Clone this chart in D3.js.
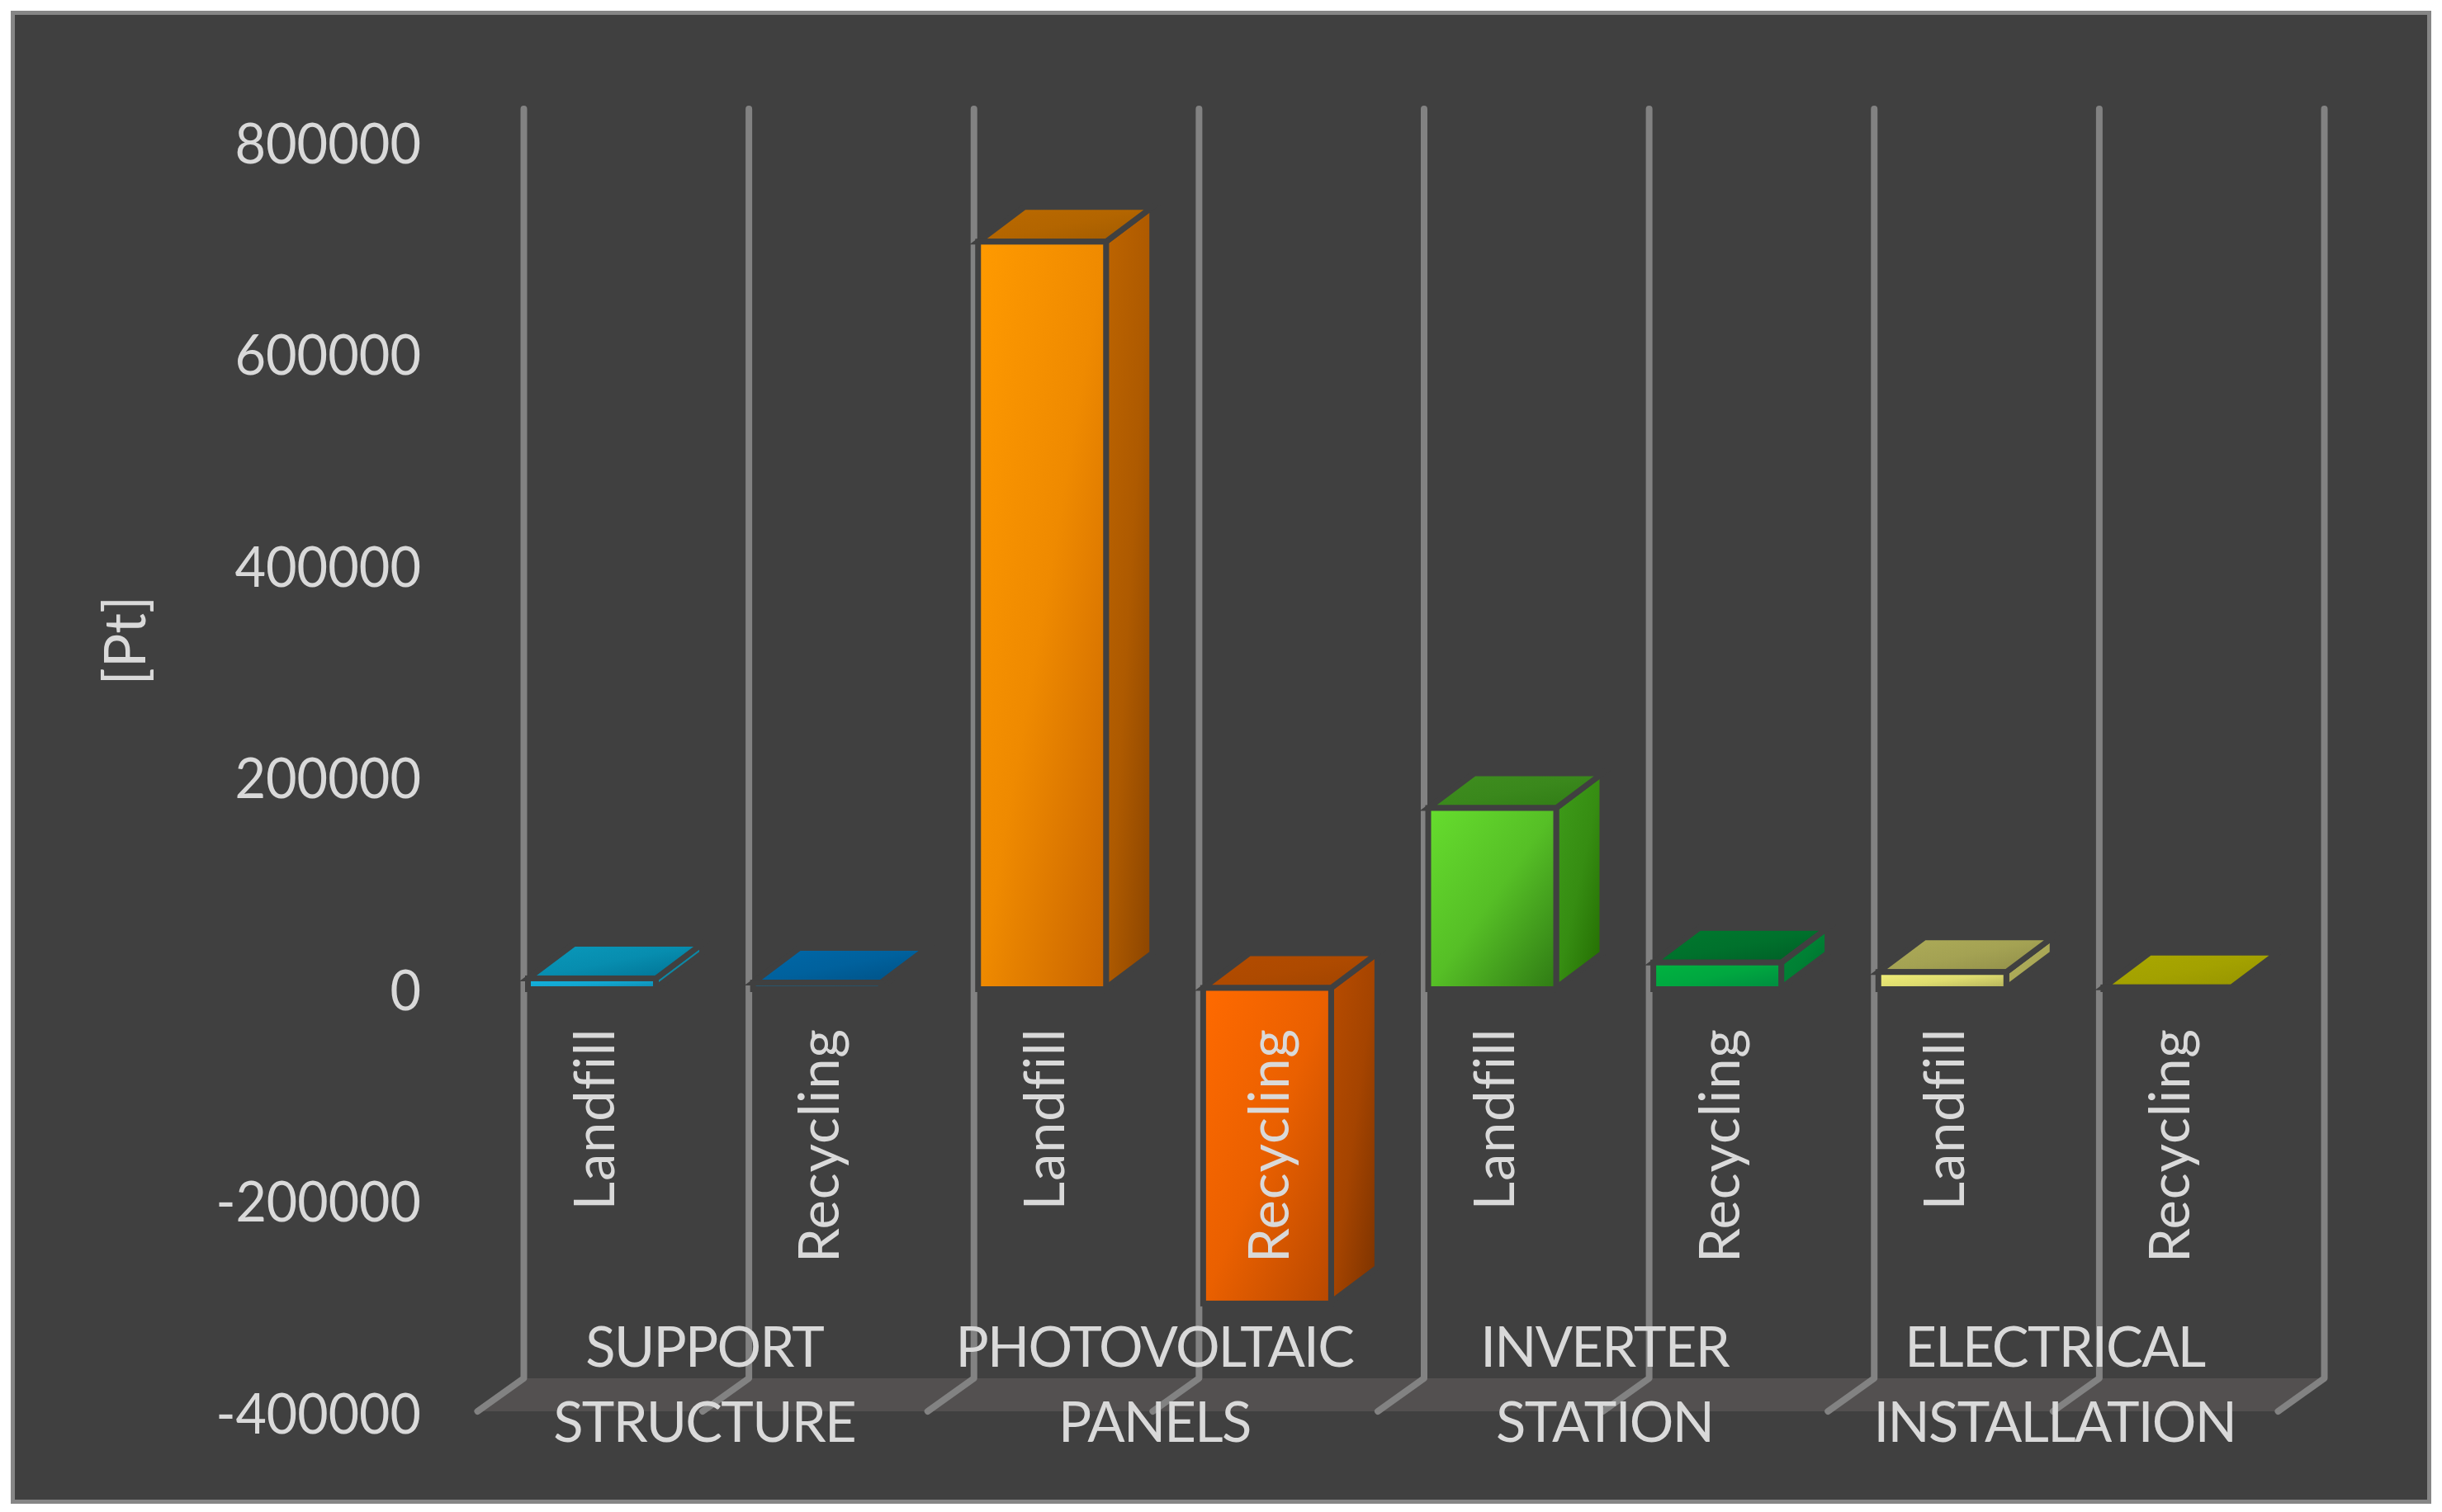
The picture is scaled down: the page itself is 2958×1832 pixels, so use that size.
<!DOCTYPE html>
<html>
<head>
<meta charset="utf-8">
<style>
  html, body { margin: 0; background: #fff; }
  svg { display: block; }
  text { font-family: Lato, sans-serif; fill: #d9d9d9; font-variant-ligatures: none; }
</style>
<script src="https://cdn.jsdelivr.net/npm/d3@7"></script>
</head>
<body>
<svg id="chart" width="2958" height="1832"></svg>
<script>
// values, unit Pt
var groups = [["SUPPORT", "STRUCTURE"], ["PHOTOVOLTAIC", "PANELS"], ["INVERTER", "STATION"], ["ELECTRICAL", "INSTALLATION"]];
var scenarios = ["Landfill", "Recycling"];
var landfill = [9000, 705000, 170000, 15000];
var recycling = [5000, -297000, 24000, 500];
var yTicks = [-400000, -200000, 0, 200000, 400000, 600000, 800000];

// gradients per bar: [front], [top], [side], each from -> to
var palette = [
  [["#14b4e0", "#0c86aa"], ["#0a9abc", "#006f90"], ["#0f8ca8", "#0a7f9c"]],
  [["#2a5a72", "#234f66"], ["#0068a8", "#004f82"], ["#005c96", "#004f82"]],
  [["#ff9a00", "#c86400"], ["#bb6a00", "#a05a00"], ["#bd6400", "#8a4400"]],
  [["#ff6a00", "#b84800"], ["#b44c00", "#a04400"], ["#b84c00", "#7a3200"]],
  [["#66dd2e", "#2f7a14"], ["#3f8e1f", "#2f7a14"], ["#3e9c1a", "#226a00"]],
  [["#00b440", "#008a40"], ["#007a2e", "#005c26"], ["#008a38", "#006a2c"]],
  [["#f2f078", "#b0ae5a"], ["#aeac58", "#8e8c48"], ["#b0ae5a", "#a09e50"]],
  [["#8a8800", "#7a7800"], ["#aaa800", "#949200"], ["#8a8800", "#7a7800"]]
];

var bg = "#404040";
var depthX = 56, depthY = 42;
var digitWidth = 37.6, minusWidth = 23;

var bars = [];
groups.forEach(function(g, i) {
  bars.push({ key: i + scenarios[0], group: i, label: scenarios[0], value: landfill[i] });
  bars.push({ key: i + scenarios[1], group: i, label: scenarios[1], value: recycling[i] });
});

var svg = d3.select("#chart");
var defs = svg.append("defs");

var x = d3.scaleBand().domain(bars.map(function(d) { return d.key })).range([634.5, 2815.5]);
var y = d3.scaleLinear().domain([-400000, 800000]).range([1710, 171]);
var barOffset = 5, barWidth = 155;

svg.append("rect")
  .attr("x", 15.5).attr("y", 15.5)
  .attr("width", 2927).attr("height", 1804)
  .attr("fill", bg).attr("stroke", "#868686").attr("stroke-width", 5);

// floor
var floorLeft = x.range()[0], floorRight = x.range()[1];
svg.append("polygon")
  .attr("points", [
    [floorLeft, y(-400000) - depthY + 2],
    [floorRight, y(-400000) - depthY + 2],
    [floorRight - depthX, y(-400000)],
    [floorLeft - depthX, y(-400000)]
  ].join(" "))
  .attr("fill", "#535050");

// vertical gridlines at the band edges, with the little floor tick
var edges = x.domain().map(function(k) { return x(k) }).concat([floorRight]);
var wall = svg.append("g").attr("fill", "none").attr("stroke", "#828282").attr("stroke-linejoin", "round");
wall.selectAll("path").data(edges).join("path")
  .attr("stroke-width", 8)
  .attr("stroke-linecap", "round")
  .attr("d", function(d) {
    var top = y(800000) - 39, back = y(-400000) - depthY + 2;
    return "M" + d + "," + top + "L" + d + "," + back + "L" + (d - depthX) + "," + y(-400000);
  });

function gradient(id, stops) {
  var g = defs.append("linearGradient").attr("id", id)
    .attr("x1", 0).attr("y1", 0).attr("x2", 1).attr("y2", 1);
  g.append("stop").attr("offset", "0%").attr("stop-color", stops[0]);
  g.append("stop").attr("offset", "50%").attr("stop-color", d3.interpolateRgb(stops[0], stops[1])(0.3));
  g.append("stop").attr("offset", "100%").attr("stop-color", stops[1]);
  return "url(#" + id + ")";
}

var barG = svg.append("g")
  .attr("stroke", bg).attr("stroke-width", 7).attr("stroke-linejoin", "miter");

bars.forEach(function(d, i) {
  var x0 = x(d.key) + barOffset, x1 = x0 + barWidth;
  var yTop = y(Math.max(d.value, 0)), yBot = y(Math.min(d.value, 0));
  var c = palette[i];

  barG.append("polygon")
    .attr("points", [[x1, yTop], [x1 + depthX, yTop - depthY], [x1 + depthX, yBot - depthY], [x1, yBot]].join(" "))
    .attr("fill", gradient("side" + i, c[2]));
  barG.append("polygon")
    .attr("points", [[x0, yTop], [x0 + depthX, yTop - depthY], [x1 + depthX, yTop - depthY], [x1, yTop]].join(" "))
    .attr("fill", gradient("top" + i, c[1]));
  // bottom edge sits a bit lower so the thin bars keep their front stripe
  barG.append("rect")
    .attr("x", x0).attr("y", yTop)
    .attr("width", barWidth).attr("height", yBot - yTop + 1.5)
    .attr("fill", gradient("front" + i, c[0]));
});

// value axis
var yAxis = d3.axisLeft(y).tickValues(yTicks).tickSize(0).tickPadding(0)
  .tickFormat(function(d) { return String(d) });
var axisG = svg.append("g").attr("transform", "translate(510,0)").call(yAxis);
axisG.select(".domain").remove();
axisG.attr("font-family", null).attr("font-size", null);
axisG.selectAll("text")
  .attr("dy", null)
  .attr("y", 26)
  .attr("textLength", function(d) {
    var s = String(Math.abs(d));
    return s.length * digitWidth + (d < 0 ? minusWidth : 0);
  })
  .attr("lengthAdjust", "spacingAndGlyphs")
  .style("font-size", "67px");

svg.append("text")
  .attr("transform", "translate(176,776) rotate(-90)")
  .attr("text-anchor", "middle")
  .style("font-size", "69px")
  .text("[Pt]");

// scenario labels, rotated, read upwards from the axis
svg.append("g").selectAll("text").data(bars).join("text")
  .attr("transform", function(d) {
    return "translate(" + (x(d.key) + 109) + ",1246) rotate(-90)";
  })
  .attr("text-anchor", "end")
  .style("font-size", "67px")
  .style("letter-spacing", "0.8px")
  .text(function(d) { return d.label });

// group labels, two lines each
var groupG = svg.append("g").selectAll("text").data(groups).join("text")
  .attr("text-anchor", "middle")
  .style("font-size", "67px")
  .style("letter-spacing", "-1.7px")
  .attr("transform", function(d, i) {
    var left = x(i + scenarios[0]), right = left + 2 * x.bandwidth();
    return "translate(" + ((left + right) / 2 - 54) + ",0)";
  });
groupG.selectAll("tspan").data(function(d) { return d }).join("tspan")
  .attr("x", 0)
  .attr("y", function(d, i) { return i === 0 ? 1656 : 1747 })
  .text(function(d) { return d });
</script>
</body>
</html>
